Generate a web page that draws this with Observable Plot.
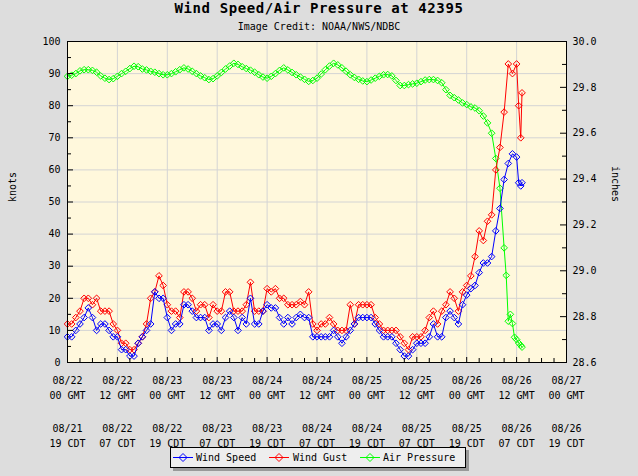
<!DOCTYPE html>
<html><head><meta charset="utf-8">
<script src="https://cdn.jsdelivr.net/npm/d3@7"></script>
<script src="https://cdn.jsdelivr.net/npm/@observablehq/plot@0.6"></script>
<style>
html,body{margin:0;padding:0;background:#dddddd;}
#wrap{position:relative;width:638px;height:476px;background:#dddddd;font-family:"DejaVu Sans Mono",monospace;color:#000;overflow:hidden;}
#title{position:absolute;left:0;top:0;width:638px;text-align:center;font-weight:bold;font-size:14px;line-height:16px;letter-spacing:0.6px;}
#sub{position:absolute;left:0;top:21px;width:638px;text-align:center;font-size:10px;line-height:12px;}
#chart{position:absolute;left:0;top:36px;}
#legend{position:absolute;left:170px;top:447px;width:294px;height:19px;border:1px solid #000;background:#eeeeee;box-shadow:3px 3px 0 #999;font-size:10px;line-height:19px;}
#legend .it{position:absolute;top:0;height:19px;}
#legend svg{position:absolute;top:4px;}
#legend .tx{position:absolute;top:0;white-space:pre;}
</style></head>
<body>
<div id="wrap">
  <div id="title">Wind Speed/Air Pressure at 42395</div>
  <div id="sub">Image Credit: NOAA/NWS/NDBC</div>
  <div id="chart"></div>
  <div id="legend"></div>
</div>
<script>
// ---- data (hours since 08/22 00 GMT) ----
const windHours = [0,1,2,3,4,5,6,7,8,9,10,11,12,13,14,15,16,17,18,19,20,21,22,23,24,25,26,27,28,29,30,31,32,33,34,35,36,37,38,39,40,41,42,43,44,45,46,47,48,49,50,51,52,53,54,55,56,57,58,59,60,61,62,63,64,65,66,67,68,69,70,71,72,73,74,75,76,77,78,79,80,81,82,83,84,85,86,87,88,89,90,91,92,93,94,95,96,97,98,99,100,101,102,103,104,105,106,107,108,108.5,109,109.3];
const windSpeed = [8,8,10,12,14,17,14,10,12,12,10,8,8,4,4,2,2,6,8,10,12,22,20,20,14,10,12,12,18,18,16,14,14,14,10,12,12,10,14,16,14,10,14,12,20,12,12,16,18,17,17,14,12,14,12,14,15,14,14,8,8,8,8,8,10,8,6,8,10,12,14,14,14,14,12,10,8,8,8,6,4,2,2,4,6,6,6,8,12,8,8,14,16,14,12,18,21,23,24,28,31,31,33,41,48,57,62,65,64,56,55,56];
const windGust = [12,12,14,16,20,20,18,20,16,16,16,12,10,6,6,4,4,6,8,12,20,22,27,24,18,16,16,14,22,22,20,16,18,18,14,18,16,16,22,22,16,16,16,18,25,16,16,16,23,22,23,20,20,18,18,18,19,18,22,12,10,12,12,14,12,10,10,10,18,12,18,18,18,18,14,12,10,10,10,10,8,6,4,8,8,8,10,14,16,12,16,18,22,20,16,22,24,27,33,41,38,44,46,60,67,78,93,90,93,80,70,84];
const pressHours = [0,1,2,3,4,5,6,7,8,9,10,11,12,13,14,15,16,17,18,19,20,21,22,23,24,25,26,27,28,29,30,31,32,33,34,35,36,37,38,39,40,41,42,43,44,45,46,47,48,49,50,51,52,53,54,55,56,57,58,59,60,61,62,63,64,65,66,67,68,69,70,71,72,73,74,75,76,77,78,79,80,81,82,83,84,85,86,87,88,89,90,91,92,93,94,95,96,97,98,99,100,101,102,103,104,105,105.5,106,106.5,107,107.5,108,108.5,109,109.3];
const pressure = [29.848,29.853,29.86,29.872,29.877,29.877,29.874,29.866,29.85,29.84,29.834,29.838,29.848,29.86,29.87,29.882,29.892,29.89,29.88,29.876,29.87,29.866,29.86,29.855,29.855,29.86,29.868,29.877,29.885,29.88,29.87,29.86,29.85,29.842,29.834,29.838,29.85,29.865,29.88,29.893,29.905,29.9,29.89,29.882,29.875,29.866,29.855,29.845,29.84,29.848,29.86,29.874,29.885,29.876,29.865,29.855,29.845,29.835,29.826,29.83,29.84,29.858,29.877,29.893,29.905,29.898,29.885,29.87,29.855,29.843,29.835,29.828,29.825,29.832,29.84,29.848,29.855,29.856,29.85,29.83,29.808,29.808,29.812,29.815,29.818,29.825,29.832,29.834,29.834,29.83,29.82,29.79,29.765,29.755,29.745,29.732,29.725,29.715,29.71,29.698,29.675,29.645,29.6,29.49,29.36,29.1,28.98,28.78,28.81,28.77,28.71,28.7,28.685,28.675,28.667];

const knotTicks = [0,10,20,30,40,50,60,70,80,90,100];
const knotMinor = [5,15,25,35,45,55,65,75,85,95];
const pressTicks = [28.6,28.8,29.0,29.2,29.4,29.6,29.8,30.0];
const pressMinor = [28.7,28.9,29.1,29.3,29.5,29.7,29.9];
const xTickHours = [0,12,24,36,48,60,72,84,96,108,120];
const xMinorHours = [3,6,9,15,18,21,27,30,33,39,42,45,51,54,57,63,66,69,75,78,81,87,90,93,99,102,105,111,114,117];
const gmtLabels = ["08/22\n00 GMT","08/22\n12 GMT","08/23\n00 GMT","08/23\n12 GMT","08/24\n00 GMT","08/24\n12 GMT","08/25\n00 GMT","08/25\n12 GMT","08/26\n00 GMT","08/26\n12 GMT","08/27\n00 GMT"];
const cdtLabels = ["08/21\n19 CDT","08/22\n07 CDT","08/22\n19 CDT","08/23\n07 CDT","08/23\n19 CDT","08/24\n07 CDT","08/24\n19 CDT","08/25\n07 CDT","08/25\n19 CDT","08/26\n07 CDT","08/26\n19 CDT"];
const seriesNames = ["Wind Speed","Wind Gust","Air Pressure"];
const seriesColors = ["#0000ff","#ff0000","#00ff00"];

// ---- helpers ----
const base = Date.UTC(2020, 7, 22, 0);
const hr = h => new Date(base + h * 3600e3);
const P0 = 28.6, P1 = 30.0;
const toK = p => (p - P0) / (P1 - P0) * 100;

const speedData = windHours.map((h, i) => ({t: hr(h), v: windSpeed[i]}));
const gustData = windHours.map((h, i) => ({t: hr(h), v: windGust[i]}));
const pressData = pressHours.map((h, i) => ({t: hr(h), v: toK(pressure[i])}));

const W = 638, H = 410, mL = 67, mR = 72, mT = 5, mB = 84;
const iw = W - mL - mR, ih = H - mT - mB;
const font = "DejaVu Sans Mono";

const series = (data, color) => [
  Plot.line(data, {x: "t", y: "v", stroke: color, strokeWidth: 1}),
  Plot.dot(data, {x: "t", y: "v", symbol: "diamond2", r: 3, stroke: color, strokeWidth: 1, fill: "none"})
];

const chart = Plot.plot({
  width: W, height: H,
  marginLeft: mL, marginRight: mR, marginTop: mT, marginBottom: mB,
  style: {fontFamily: font, fontSize: "10px", background: "transparent", color: "#000", overflow: "visible"},
  x: {type: "utc", domain: [hr(0), hr(120)], axis: null},
  y: {domain: [0, 100], axis: null},
  marks: [
    Plot.frame({fill: "#fff8dc", stroke: null}),
    Plot.ruleY(knotTicks, {y: d => d, stroke: "#d4d4d4"}),
    Plot.ruleX(xTickHours, {x: h => hr(h), stroke: "#d4d4d4"}),
    ...series(pressData, seriesColors[2]),
    ...series(gustData, seriesColors[1]),
    ...series(speedData, seriesColors[0]),
    Plot.frame({stroke: "#000", strokeWidth: 1}),
    // inward ticks
    Plot.tickY(knotTicks, {y: d => d, insetRight: iw - 6, stroke: "#000"}),
    Plot.tickY(knotMinor, {y: d => d, insetRight: iw - 4, stroke: "#000"}),
    Plot.tickY(pressTicks, {y: p => toK(p), insetLeft: iw - 6, stroke: "#000"}),
    Plot.tickY(pressMinor, {y: p => toK(p), insetLeft: iw - 4, stroke: "#000"}),
    Plot.tickX(xTickHours, {x: h => hr(h), insetTop: ih - 5, stroke: "#000"}),
    Plot.tickX(xMinorHours, {x: h => hr(h), insetTop: ih - 4, stroke: "#000"}),
    // tick labels
    Plot.text(knotTicks, {y: d => d, text: d => String(d), frameAnchor: "left", textAnchor: "end", dx: -7, fontSize: 10}),
    Plot.text(pressTicks, {y: p => toK(p), text: p => p.toFixed(1), frameAnchor: "right", textAnchor: "start", dx: 6, fontSize: 10}),
    Plot.text(xTickHours, {x: h => hr(h), text: (d, i) => gmtLabels[i], frameAnchor: "bottom", lineAnchor: "top", dy: 11, lineHeight: 1.5, fontSize: 10}),
    Plot.text(xTickHours, {x: h => hr(h), text: (d, i) => cdtLabels[i], frameAnchor: "bottom", lineAnchor: "top", dy: 59, lineHeight: 1.5, fontSize: 10}),
    // axis titles
    Plot.text(["knots"], {frameAnchor: "left", dx: -55, rotate: -90, fontSize: 10}),
    Plot.text(["inches"], {frameAnchor: "right", dx: 49, rotate: 90, fontSize: 10})
  ]
});
document.getElementById("chart").appendChild(chart);

// ---- legend ----
const legend = document.getElementById("legend");
const iconX = [1, 97, 188];
const textX = [25, 122, 212];
seriesNames.forEach((name, i) => {
  const c = seriesColors[i];
  const s = document.createElement("div");
  s.className = "it";
  s.innerHTML = `<svg style="left:${iconX[i]}px" width="22" height="11"><line x1="1" y1="5.5" x2="21" y2="5.5" stroke="${c}"/><path d="M11 1.5 L15 5.5 L11 9.5 L7 5.5Z" fill="none" stroke="${c}"/></svg><span class="tx" style="left:${textX[i]}px">${name}</span>`;
  legend.appendChild(s);
});
</script>
</body></html>
